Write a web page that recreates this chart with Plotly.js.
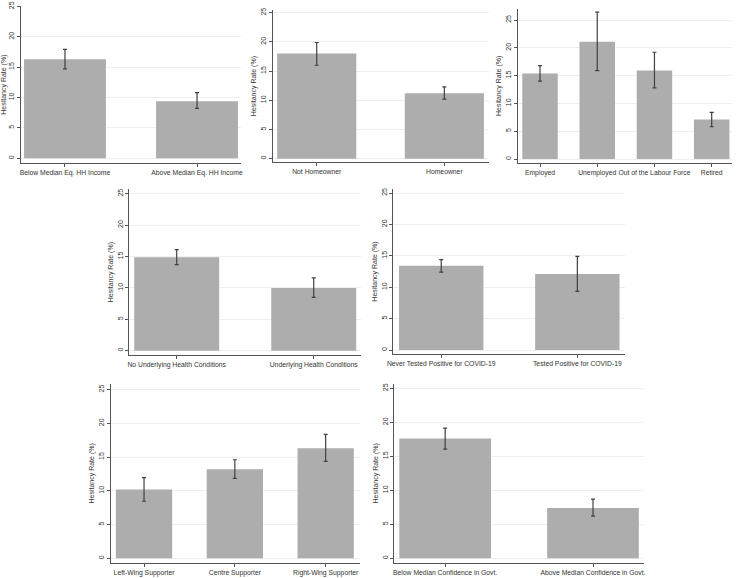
<!DOCTYPE html>
<html>
<head>
<meta charset="utf-8">
<script src="https://cdn.plot.ly/plotly-3.0.1.min.js"></script>
<style>html,body{margin:0;padding:0;background:#fff;}#chart{width:736px;height:578px;}</style>
</head>
<body>
<div id="chart"></div>
<script>
// ---- Data ----
const incomeCats = ["Below Median Eq. HH Income", "Above Median Eq. HH Income"];
const incomeVals = [16.3, 9.4];
const incomeHi   = [17.9, 10.8];
const incomeLo   = [14.7, 8.2];

const homeCats = ["Not Homeowner", "Homeowner"];
const homeVals = [18.0, 11.2];
const homeHi   = [19.9, 12.3];
const homeLo   = [16.0, 10.2];

const empCats = ["Employed", "Unemployed", "Out of the Labour Force", "Retired"];
const empVals = [15.4, 21.1, 15.9, 7.1];
const empHi   = [16.8, 26.4, 19.2, 8.4];
const empLo   = [14.0, 15.9, 12.8, 5.8];

const healthCats = ["No Underlying Health Conditions", "Underlying Health Conditions"];
const healthVals = [14.9, 10.0];
const healthHi   = [16.1, 11.6];
const healthLo   = [13.7, 8.5];

const covidCats = ["Never Tested Positive for COVID-19", "Tested Positive for COVID-19"];
const covidVals = [13.4, 12.1];
const covidHi   = [14.4, 14.9];
const covidLo   = [12.4, 9.35];

const partyCats = ["Left-Wing Supporter", "Centre Supporter", "Right-Wing Supporter"];
const partyVals = [10.2, 13.2, 16.3];
const partyHi   = [11.95, 14.6, 18.35];
const partyLo   = [8.45, 11.85, 14.35];

const govCats = ["Below Median Confidence in Govt.", "Above Median Confidence in Govt."];
const govVals = [17.6, 7.4];
const govHi   = [19.15, 8.7];
const govLo   = [16.05, 6.2];

const yTickVals = [0, 5, 10, 15, 20, 25];
const yTitle = "Hesitancy Rate (%)";

const panels = [
  {cats: incomeCats, vals: incomeVals, hi: incomeHi, lo: incomeLo},
  {cats: homeCats,   vals: homeVals,   hi: homeHi,   lo: homeLo},
  {cats: empCats,    vals: empVals,    hi: empHi,    lo: empLo},
  {cats: healthCats, vals: healthVals, hi: healthHi, lo: healthLo},
  {cats: covidCats,  vals: covidVals,  hi: covidHi,  lo: covidLo},
  {cats: partyCats,  vals: partyVals,  hi: partyHi,  lo: partyLo},
  {cats: govCats,    vals: govVals,    hi: govHi,    lo: govLo}
];

// ---- Layout geometry (pixels) ----
const W = 736, H = 578;
const geom = [
  {l: 21,    r: 241, t: 6,   b: 163.3, zero: 158.3, ppu: 6.08, x0: -0.333, x1: 1.333},
  {l: 272.7, r: 489, t: 10,  b: 162.3, zero: 158.7, ppu: 5.84, x0: -0.345, x1: 1.35},
  {l: 517.7, r: 732, t: 9,   b: 162.7, zero: 159,   ppu: 5.56, x0: -0.39,  x1: 3.355},
  {l: 129.3, r: 361, t: 189, b: 355.3, zero: 350.7, ppu: 6.28, x0: -0.346, x1: 1.345},
  {l: 393.3, r: 625, t: 189, b: 354,   zero: 350,   ppu: 6.28, x0: -0.352, x1: 1.35},
  {l: 110.7, r: 360, t: 384, b: 562.7, zero: 558.3, ppu: 6.75, x0: -0.367, x1: 2.378},
  {l: 394.3, r: 644, t: 384, b: 562.7, zero: 558.3, ppu: 6.8,  x0: -0.344, x1: 1.345}
];

const FONT = "Liberation Sans, Arial, Helvetica, sans-serif";
const traces = [];
const layout = {
  width: W, height: H,
  margin: {l: 0, r: 0, t: 0, b: 0, pad: 0},
  paper_bgcolor: "#ffffff",
  plot_bgcolor: "#ffffff",
  showlegend: false,
  bargap: 0.38,
  font: {family: FONT, size: 7, color: "#333333"}
};

panels.forEach((p, i) => {
  const n = i + 1;
  const sfx = n === 1 ? "" : String(n);
  const g = geom[i];
  traces.push({
    type: "bar",
    x: p.cats,
    y: p.vals,
    xaxis: "x" + sfx,
    yaxis: "y" + sfx,
    marker: {color: "#adadad", line: {width: 0}},
    error_y: {
      type: "data",
      symmetric: false,
      array: p.hi.map((h, k) => h - p.vals[k]),
      arrayminus: p.vals.map((v, k) => v - p.lo[k]),
      color: "#404040",
      thickness: 1.2,
      width: 2
    },
    hoverinfo: "skip"
  });
  layout["xaxis" + sfx] = {
    domain: [g.l / W, g.r / W],
    anchor: "y" + sfx,
    type: "category",
    range: [g.x0, g.x1],
    tickangle: 0,
    showline: true, linecolor: "#555555", linewidth: 1,
    ticks: "outside", ticklen: 3, tickcolor: "#555555", tickwidth: 1,
    showgrid: false, zeroline: false,
    tickfont: {family: FONT, size: 6.8, color: "#333333"},
    automargin: false, fixedrange: true
  };
  layout["yaxis" + sfx] = {
    domain: [1 - g.b / H, 1 - g.t / H],
    anchor: "x" + sfx,
    range: [(g.zero - g.b) / g.ppu, (g.zero - g.t) / g.ppu],
    tickvals: yTickVals,
    tickangle: -90,
    showline: true, linecolor: "#555555", linewidth: 1,
    ticks: "outside", ticklen: 3, tickcolor: "#555555", tickwidth: 1,
    showgrid: true, gridcolor: "#eeeeee", gridwidth: 1,
    zeroline: false,
    tickfont: {family: FONT, size: 7, color: "#333333"},
    title: {text: yTitle, font: {family: FONT, size: 7, color: "#333333"}, standoff: 2},
    automargin: false, fixedrange: true
  };
});

Plotly.newPlot("chart", traces, layout, {displayModeBar: false, staticPlot: true});
</script>
</body>
</html>
